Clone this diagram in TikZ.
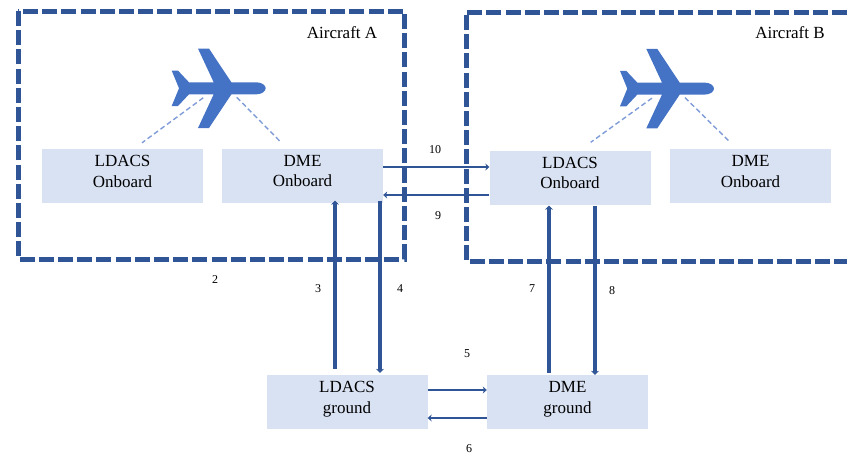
\documentclass[tikz,border=0pt]{standalone}
\usepackage{fontspec}
\setmainfont{Liberation Serif}
\usetikzlibrary{arrows.meta}
\definecolor{framecol}{HTML}{2F5597}
\definecolor{planecol}{HTML}{4472C4}
\definecolor{unitcol}{HTML}{D9E2F3}
\definecolor{mountcol}{HTML}{7F9CD8}
\tikzset{
    unitbox/.style={fill=unitcol, minimum width=161pt, minimum height=54pt, inner sep=0pt,
        align=center, text depth=9pt, font=\fontsize{17}{20.5}\selectfont},
    framebox/.style={draw=framecol, line width=5pt, dash pattern=on 15pt off 4.2pt},
    thicklink/.style={draw=framecol, line width=3.6pt, -{Stealth[length=4pt,width=8pt]}},
    thinlink/.style={draw=framecol, line width=2.8pt, -{Stealth[length=4pt,width=7pt]}},
    mountlink/.style={draw=mountcol, line width=1.4pt, dash pattern=on 5pt off 3pt},
    numlabel/.style={font=\fontsize{12}{14}\selectfont, inner sep=0pt},
    titlelabel/.style={font=\fontsize{17}{20}\selectfont, inner sep=0pt},
    plane/.pic={
        \fill[planecol] (0,0) .. controls (0,-3) and (-4,-6) .. (-9.3,-6) -- (-34.3,-6)
            -- (-56.7,-39.7) -- (-67.7,-39.7) -- (-52,-6) -- (-76.7,-6)
            -- (-87.7,-17.7) -- (-94,-17.7) -- (-86.7,0) -- (-94,17.7) -- (-87.7,17.7)
            -- (-76.7,6) -- (-52,6) -- (-67.7,39.7) -- (-56.7,39.7) -- (-34.3,6) -- (-9.3,6)
            .. controls (-4,6) and (0,3) .. (0,0) -- cycle;
    }
}
\begin{document}
\begin{tikzpicture}[x=1pt,y=-1pt]
    \useasboundingbox (0,0) rectangle (847,456);

    % Границы воздушных судов.
    \draw[framebox] (18,11) rectangle (404,259);
    \draw[framebox] (847,12) -- (466,12) -- (466,261) -- (847,261);
    \node[titlelabel] (titleA) at (342,33) {Aircraft A};
    \node[titlelabel] (titleB) at (790,33) {Aircraft B};

    % Самолёты.
    \coordinate (planeA) at (265.7,88.3);
    \coordinate (planeB) at (714,88.6);
    \pic at (planeA) {plane};
    \pic at (planeB) {plane};

    % Блоки.
    \node[unitbox] (ldacsA) at (122.5,176) {LDACS\\Onboard};
    \node[unitbox] (dmeA) at (302.5,175.5) {DME\\Onboard};
    \node[unitbox] (ldacsB) at (570,177.5) {LDACS\\Onboard};
    \node[unitbox] (dmeB) at (750.5,176) {DME\\Onboard};
    \node[unitbox] (ldacsG) at (347,402) {LDACS\\ground};
    \node[unitbox] (dmeG) at (567.5,402) {DME\\ground};

    % Пунктир от самолётов к блокам.
    \draw[mountlink] ([shift={(-62.5,9.5)}]planeA) -- ([shift={(19.5,-6)}]ldacsA.north);
    \draw[mountlink] ([shift={(-29,9)}]planeA) -- ([shift={(-21.5,-6)}]dmeA.north);
    \draw[mountlink] ([shift={(-62,9.5)}]planeB) -- ([shift={(20.7,-8)}]ldacsB.north);
    \draw[mountlink] ([shift={(-29,9)}]planeB) -- ([shift={(-20.8,-7)}]dmeB.north);

    % Связи между блоками.
    \draw[thinlink] ([shift={(0,-8.5)}]dmeA.east) -- ([shift={(0,-10.5)}]ldacsB.west);
    \draw[thinlink] ([shift={(0,17.5)}]ldacsB.west) -- ([shift={(0,19.5)}]dmeA.east);
    \draw[thicklink] ([shift={(-12,-6)}]ldacsG.north) -- ([shift={(32.5,-2)}]dmeA.south);
    \draw[thicklink] ([shift={(77.5,-2)}]dmeA.south) -- ([shift={(33,-2)}]ldacsG.north);
    \draw[thicklink] ([shift={(-18.5,-2)}]dmeG.north) -- ([shift={(-21,1)}]ldacsB.south);
    \draw[thicklink] ([shift={(25,1)}]ldacsB.south) -- ([shift={(27.5,0)}]dmeG.north);
    \draw[thinlink] ([shift={(0,-12)}]ldacsG.east) -- ([shift={(0,-12)}]dmeG.west);
    \draw[thinlink] ([shift={(0,16)}]dmeG.west) -- ([shift={(0,16)}]ldacsG.east);

    % Номера связей.
    \node[numlabel] (num2) at (215,280) {2};
    \node[numlabel] (num3) at (318,289) {3};
    \node[numlabel] (num4) at (400,289) {4};
    \node[numlabel] (num5) at (467,354) {5};
    \node[numlabel] (num6) at (469,449) {6};
    \node[numlabel] (num7) at (532,289) {7};
    \node[numlabel] (num8) at (612,291) {8};
    \node[numlabel] (num9) at (438,216) {9};
    \node[numlabel] (num10) at (435,150) {10};
\end{tikzpicture}
\end{document}
